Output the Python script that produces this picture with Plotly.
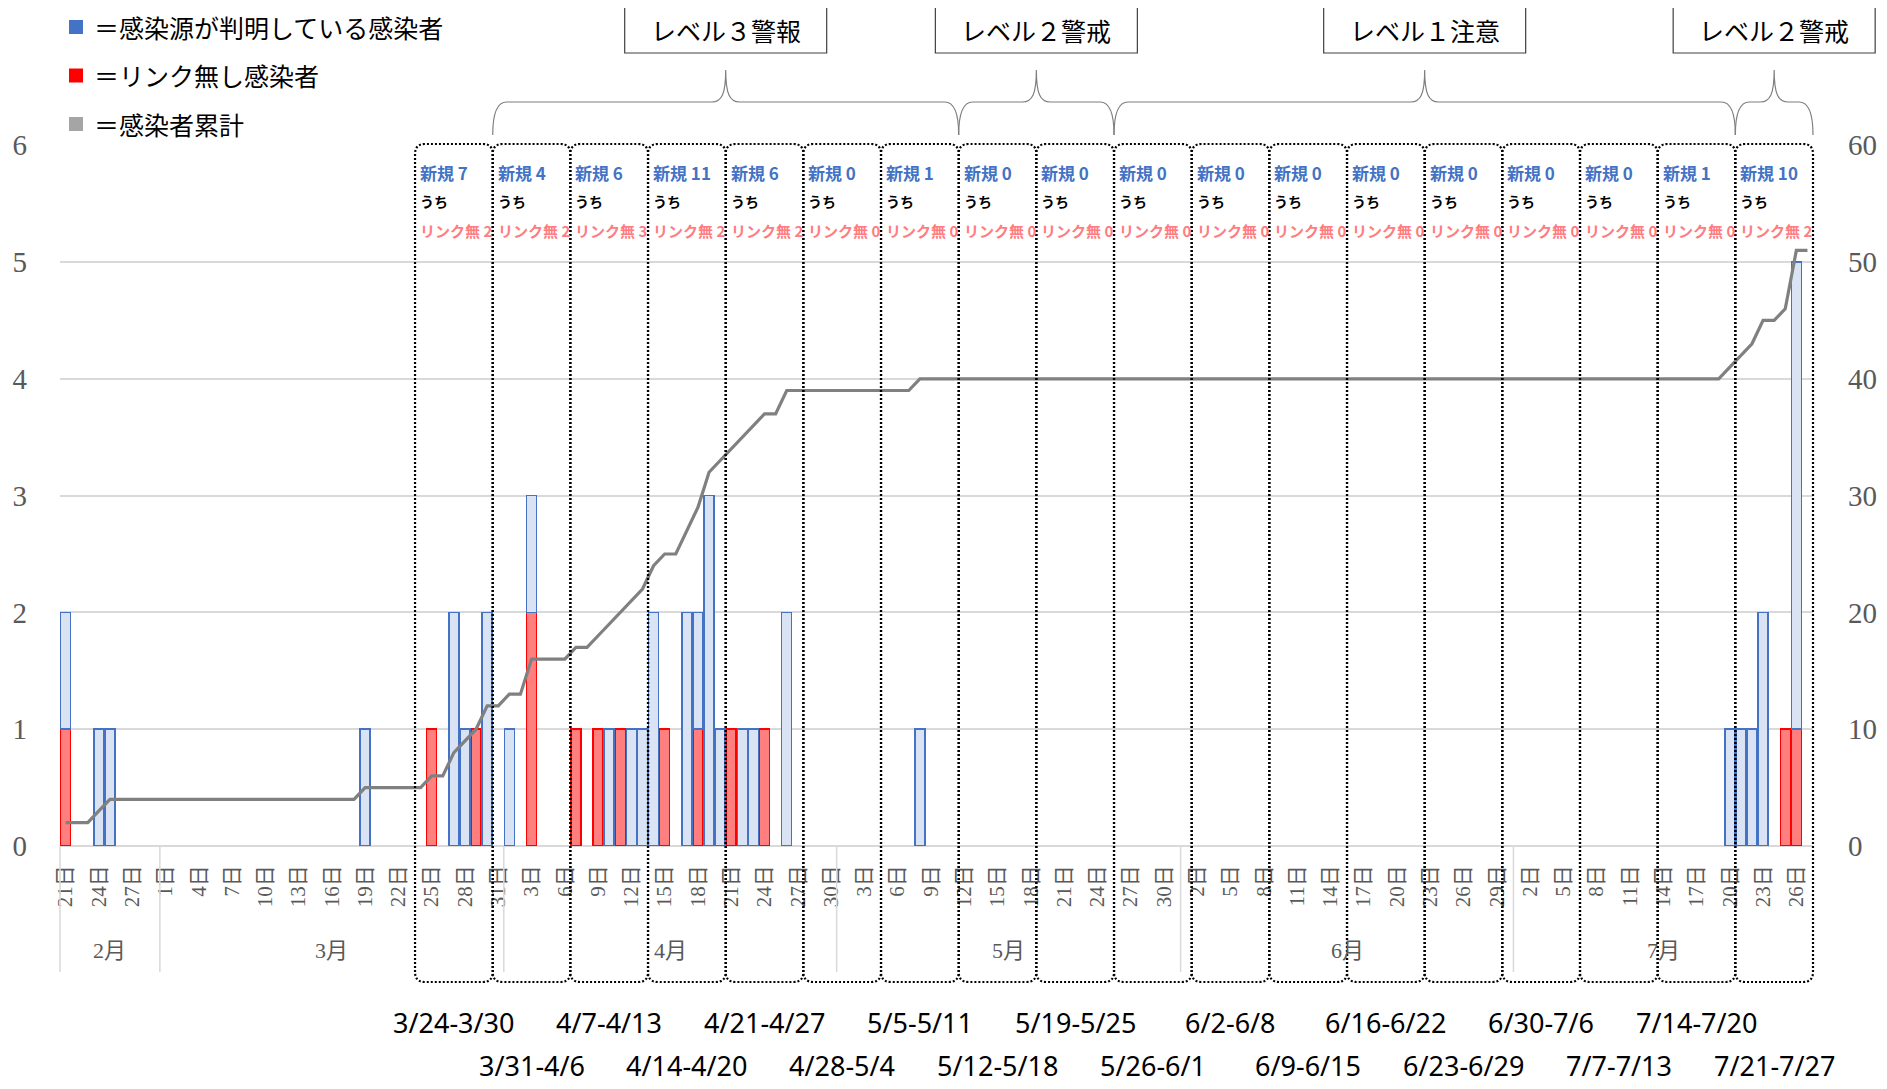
import numpy as np
import pandas as pd
import plotly.graph_objects as go

# ---------------- data ----------------
start_date = "2020-02-21"
end_date = "2020-07-27"

known_dates = ["2020-02-21", "2020-02-24", "2020-02-25", "2020-03-19", "2020-03-27",
               "2020-03-28", "2020-03-30", "2020-04-01", "2020-04-03", "2020-04-10",
               "2020-04-12", "2020-04-13", "2020-04-14", "2020-04-17", "2020-04-18",
               "2020-04-19", "2020-04-20", "2020-04-22", "2020-04-23", "2020-04-26",
               "2020-05-08", "2020-07-20", "2020-07-21", "2020-07-22", "2020-07-23",
               "2020-07-26"]
known_counts = [1, 1, 1, 1, 2, 1, 2, 1, 1, 1, 1, 1, 2, 2, 1, 3, 1, 1, 1, 2, 1, 1, 1, 1, 2, 4]

unlinked_dates = ["2020-02-21", "2020-03-25", "2020-03-29", "2020-04-03", "2020-04-07",
                  "2020-04-09", "2020-04-11", "2020-04-15", "2020-04-18", "2020-04-21",
                  "2020-04-24", "2020-07-25", "2020-07-26"]
unlinked_counts = [1, 1, 1, 2, 1, 1, 1, 1, 1, 1, 1, 1, 1]

week_starts = ["2020-03-24", "2020-03-31", "2020-04-07", "2020-04-14", "2020-04-21",
               "2020-04-28", "2020-05-05", "2020-05-12", "2020-05-19", "2020-05-26",
               "2020-06-02", "2020-06-09", "2020-06-16", "2020-06-23", "2020-06-30",
               "2020-07-07", "2020-07-14", "2020-07-21"]
week_labels = ["3/24-3/30", "3/31-4/6", "4/7-4/13", "4/14-4/20", "4/21-4/27", "4/28-5/4",
               "5/5-5/11", "5/12-5/18", "5/19-5/25", "5/26-6/1", "6/2-6/8", "6/9-6/15",
               "6/16-6/22", "6/23-6/29", "6/30-7/6", "7/7-7/13", "7/14-7/20", "7/21-7/27"]
week_new = [7, 4, 6, 11, 6, 0, 1, 0, 0, 0, 0, 0, 0, 0, 0, 0, 1, 10]
week_unlinked = [2, 2, 3, 2, 2, 0, 0, 0, 0, 0, 0, 0, 0, 0, 0, 0, 0, 2]

level_names = ["レベル３警報", "レベル２警戒", "レベル１注意", "レベル２警戒"]
level_starts = ["2020-03-31", "2020-05-12", "2020-05-26", "2020-07-21"]
level_ends = ["2020-05-11", "2020-05-25", "2020-07-20", "2020-07-27"]

month_names = ["2月", "3月", "4月", "5月", "6月", "7月"]

legend_labels = ["＝感染源が判明している感染者", "＝リンク無し感染者", "＝感染者累計"]
legend_colors = ["#4472C4", "#FF0000", "#A5A5A5"]

# ---------------- build daily series ----------------
days = pd.date_range(start_date, end_date, freq="D")
n_days = len(days)
idx = np.arange(n_days)
pos = {d: i for i, d in enumerate(days)}

known = np.zeros(n_days)
for d, v in zip(known_dates, known_counts):
    known[pos[pd.Timestamp(d)]] = v
unlinked = np.zeros(n_days)
for d, v in zip(unlinked_dates, unlinked_counts):
    unlinked[pos[pd.Timestamp(d)]] = v
cumulative = np.cumsum(known + unlinked)

known_plot = [v if v > 0 else None for v in known]
unlinked_plot = [v if v > 0 else None for v in unlinked]

tick_idx = idx[::3]
tick_text = [f"{days[i].day}日" for i in tick_idx]

# ---------------- geometry helpers (reference pixel -> paper) ----------------
OFF = 8                       # page body margin
W, H = 1887 - OFF, 1089 - OFF
PL, PR, PT, PB = 60, 1813, 145, 846
PXDAY = (PR - PL) / n_days


def fx(px):
    return (px - PL) / (PR - PL)


def fy(py):
    return (PB - py) / (PB - PT)


def day_left_px(i):
    return PL + i * PXDAY


SERIF = "Liberation Serif, DejaVu Serif, Noto Sans CJK JP"
CJK = "Noto Sans CJK JP, Noto Sans"
GRAY_TXT = "#595959"

fig = go.Figure()

fig.add_trace(go.Bar(
    x=idx, y=unlinked_plot, name="リンク無し感染者",
    marker=dict(color="#FF7F7F", line=dict(color="#FF0000", width=1.5)),
))
fig.add_trace(go.Bar(
    x=idx, y=known_plot, name="感染源が判明している感染者",
    marker=dict(color="#DAE3F3", line=dict(color="#4472C4", width=1.5)),
))
fig.add_trace(go.Scatter(
    x=idx, y=cumulative, name="感染者累計", yaxis="y2", mode="lines",
    line=dict(color="#808080", width=3.2),
))

shapes = []
annotations = []

# month separators & labels
month_first = [0] + [i for i in range(1, n_days) if days[i].month != days[i - 1].month]
month_bounds = month_first + [n_days]
for k, m in enumerate(month_names):
    a, b = month_bounds[k], month_bounds[k + 1]
    xp = day_left_px(a)
    shapes.append(dict(type="line", xref="paper", yref="paper",
                       x0=fx(xp), x1=fx(xp), y0=fy(846), y1=fy(972),
                       line=dict(color="#D9D9D9", width=1.5)))
    cx = (day_left_px(a) + day_left_px(b)) / 2
    annotations.append(dict(xref="paper", yref="paper", x=fx(cx), y=fy(950),
                            text=m, showarrow=False, xanchor="center", yanchor="middle",
                            font=dict(family=SERIF, size=22, color=GRAY_TXT)))

# weekly dotted rounded boxes + texts
yt, yb = 144, 982
r = 10
for k, ws in enumerate(week_starts):
    i0 = pos[pd.Timestamp(ws)]
    xl = day_left_px(i0)
    xr = day_left_px(i0 + 7)
    pts = [
        ("M", [(xl, yb - r)]),
        ("L", [(xl, yt + r)]),
        ("Q", [(xl, yt), (xl + r, yt)]),
        ("L", [(xr - r, yt)]),
        ("Q", [(xr, yt), (xr, yt + r)]),
        ("L", [(xr, yb - r)]),
        ("Q", [(xr, yb), (xr - r, yb)]),
        ("L", [(xl + r, yb)]),
        ("Q", [(xl, yb), (xl, yb - r)]),
    ]
    path = " ".join(c + " " + " ".join(f"{fx(a):.5f},{fy(b):.5f}" for a, b in p) for c, p in pts) + " Z"
    shapes.append(dict(type="path", xref="paper", yref="paper", path=path,
                       line=dict(color="black", width=2.2, dash="2px,2px")))
    tx = fx(xl + 3)
    annotations.append(dict(xref="paper", yref="paper", x=tx, y=fy(172), text=f"<b>新規 {week_new[k]}</b>",
                            showarrow=False, xanchor="left", yanchor="middle",
                            font=dict(family=CJK, size=17, color="#4472C4")))
    annotations.append(dict(xref="paper", yref="paper", x=tx, y=fy(201), text="<b>うち</b>",
                            showarrow=False, xanchor="left", yanchor="middle",
                            font=dict(family=CJK, size=14, color="black")))
    annotations.append(dict(xref="paper", yref="paper", x=tx, y=fy(230), text=f"<b>リンク無 {week_unlinked[k]}</b>",
                            showarrow=False, xanchor="left", yanchor="middle",
                            font=dict(family=CJK, size=15, color="#FF7C80")))
    cx = (xl + xr) / 2
    annotations.append(dict(xref="paper", yref="paper", x=fx(cx), y=fy(1022 if k % 2 == 0 else 1065),
                            text=week_labels[k], showarrow=False, xanchor="center", yanchor="middle",
                            font=dict(family="Noto Sans", size=27, color="black")))

# level braces and boxes
y_line, y_end, y_peak = 102, 135, 70
rr = 14
for name, s, e in zip(level_names, level_starts, level_ends):
    xl = day_left_px(pos[pd.Timestamp(s)])
    xr = day_left_px(pos[pd.Timestamp(e)] + 1)
    xm = (xl + xr) / 2
    P = lambda a, b: f"{fx(a):.5f},{fy(b):.5f}"
    path = (f"M {P(xl, y_end)} C {P(xl, y_end - 22)} {P(xl + 4, y_line)} {P(xl + rr, y_line)} "
            f"L {P(xm - rr, y_line)} C {P(xm - 4, y_line)} {P(xm, y_line - 8)} {P(xm, y_peak)} "
            f"C {P(xm, y_line - 8)} {P(xm + 4, y_line)} {P(xm + rr, y_line)} "
            f"L {P(xr - rr, y_line)} C {P(xr - 4, y_line)} {P(xr, y_end - 22)} {P(xr, y_end)}")
    shapes.append(dict(type="path", xref="paper", yref="paper", path=path,
                       line=dict(color="#7F7F7F", width=1.2)))
    shapes.append(dict(type="rect", xref="paper", yref="paper",
                       x0=fx(xm - 101), x1=fx(xm + 101), y0=fy(53), y1=fy(7),
                       line=dict(color="#404040", width=1.2), fillcolor="white"))
    annotations.append(dict(xref="paper", yref="paper", x=fx(xm), y=fy(30), text=name,
                            showarrow=False, xanchor="center", yanchor="middle",
                            font=dict(family=CJK, size=25, color="black")))

# manual legend
for k, (lab, col) in enumerate(zip(legend_labels, legend_colors)):
    cy = 27 + k * 48.5
    shapes.append(dict(type="rect", xref="paper", yref="paper",
                       x0=fx(69), x1=fx(83), y0=fy(cy + 7), y1=fy(cy - 7),
                       line=dict(width=0), fillcolor=col))
    annotations.append(dict(xref="paper", yref="paper", x=fx(92), y=fy(cy), text=lab,
                            showarrow=False, xanchor="left", yanchor="middle",
                            font=dict(family=CJK, size=25, color="black")))

fig.update_layout(
    width=W, height=H,
    margin=dict(l=PL - OFF, r=W - (PR - OFF), t=PT - OFF, b=H - (PB - OFF), pad=0, autoexpand=False),
    plot_bgcolor="white", paper_bgcolor="white",
    barmode="stack", bargap=0.1, showlegend=False,
    shapes=shapes, annotations=annotations,
    xaxis=dict(range=[-0.5, n_days - 0.5], tickmode="array", tickvals=tick_idx, ticktext=tick_text,
               tickangle=-90, tickfont=dict(family=SERIF, size=21, color=GRAY_TXT), automargin=False,
               showgrid=False, zeroline=False, showline=False, ticks="", ticklabelstandoff=14),
    yaxis=dict(range=[0, 6.002], dtick=1, tick0=0, gridcolor="#D9D9D9", gridwidth=1.5, automargin=False,
               zeroline=True, zerolinecolor="#D9D9D9", zerolinewidth=1.5, showline=False,
               tickfont=dict(family=SERIF, size=29, color=GRAY_TXT), ticks="", ticklabelstandoff=32),
    yaxis2=dict(range=[0, 60.02], dtick=10, tick0=0, overlaying="y", side="right", showgrid=False,
                zeroline=False, showline=False, automargin=False,
                tickfont=dict(family=SERIF, size=29, color=GRAY_TXT), ticks="", ticklabelstandoff=34),
)

fig.write_html("out.html")
